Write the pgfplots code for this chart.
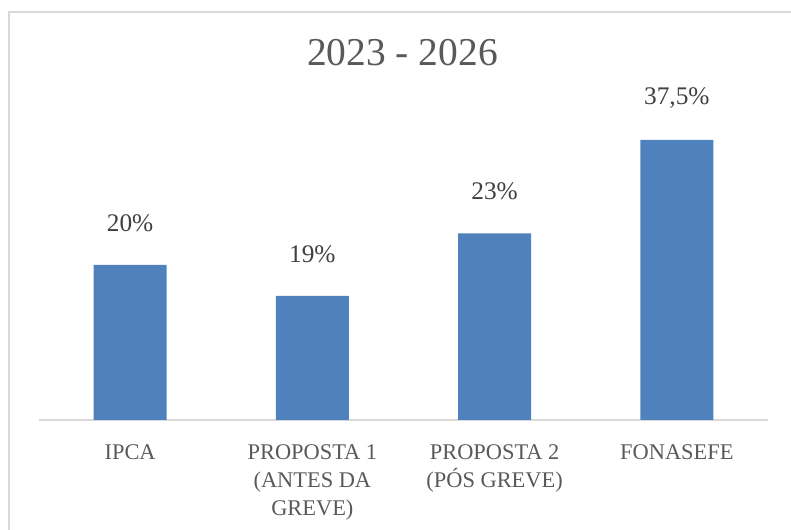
\documentclass[border=0pt]{standalone}
\usepackage{pgfplots}
\pgfplotsset{compat=1.18}
\usepackage{fontspec}
\setmainfont{Liberation Serif}
\definecolor{barblue}{HTML}{4F81BD}
\definecolor{gridgray}{HTML}{D9D9D9}
\definecolor{txtgray}{HTML}{595959}
\definecolor{lblgray}{HTML}{404040}
\begin{document}
\begin{tikzpicture}
\useasboundingbox (0,0) rectangle (593.25pt,397.5pt);
\draw[gridgray, line width=1.5pt] (6.75pt,-20pt) -- (6.75pt,388.5pt) -- (620pt,388.5pt);
\node[txtgray, font=\fontsize{29.6}{34}\selectfont] at (301.9pt,357.75pt) {2023 - 2026};
\begin{axis}[
  at={(29.25pt,82.5pt)}, anchor=south west,
  scale only axis, width=546.75pt, height=300pt,
  ymin=0, ymax=53.5714, xmin=-0.5, xmax=3.5,
  axis y line=none,
  axis x line*=bottom,
  x axis line style={gridgray, line width=1.5pt, -},
  xtick=data,
  xticklabels={IPCA, {PROPOSTA 1\\(ANTES DA\\GREVE)}, {PROPOSTA 2\\(PÓS GREVE)}, FONASEFE},
  xtick style={draw=none},
  xticklabel style={align=center, anchor=north, inner sep=0pt, yshift=-14pt, text=txtgray, font=\fontsize{16.8}{21}\selectfont},
  ybar, bar width=54.75pt,
  nodes near coords,
  point meta=explicit symbolic,
  nodes near coords style={anchor=center, yshift=31.5pt, text=lblgray, font=\fontsize{19}{22}\selectfont},
  clip=false,
]
\addplot[fill=barblue, draw=none] table[meta=label] {
x y label
0 20.76 20\%
1 16.61 19\%
2 25.0 23\%
3 37.5 37,5\%
};
\end{axis}
\end{tikzpicture}
\end{document}
